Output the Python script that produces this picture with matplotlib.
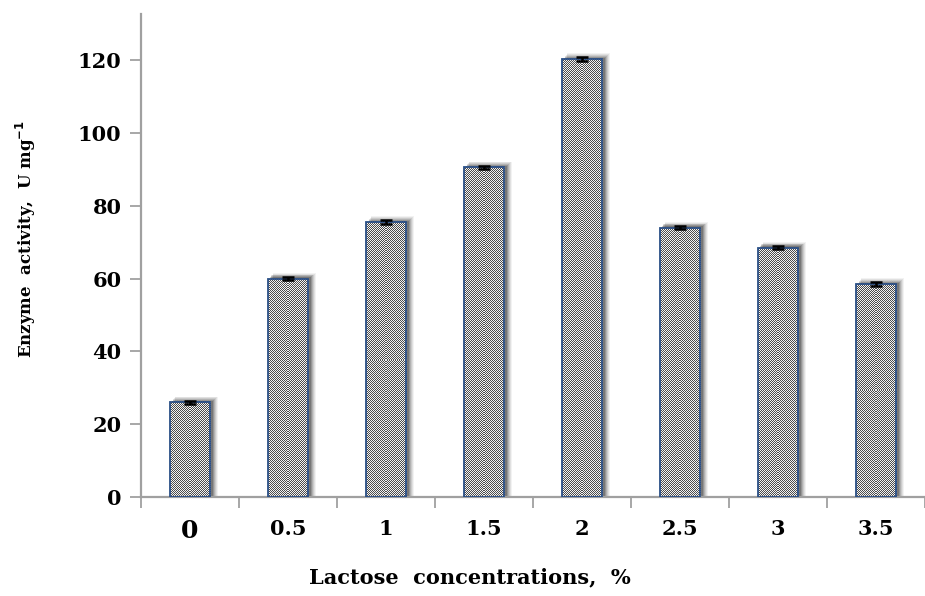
import numpy as np
import matplotlib.pyplot as plt

# Enzyme activity vs lactose concentration
concentrations = ["0", "0.5", "1", "1.5", "2", "2.5", "3", "3.5"]
activity = [26, 60, 75.5, 90.5, 120.2, 74, 68.5, 58.5]
errors = [0.5, 0.5, 0.5, 0.5, 0.6, 0.5, 0.5, 0.5]

plt.rcParams["font.family"] = ["DejaVu Serif"]
plt.rcParams["font.weight"] = "bold"

fig = plt.figure(figsize=(9.25, 5.96), dpi=100)
ax = fig.add_axes([0.1524, 0.166, 0.8476, 0.8104])

x = np.arange(len(concentrations))
w = 0.41
ymax = 132.6

# soft drop shadow behind each bar
for k, a in enumerate([0.05, 0.07, 0.09, 0.12, 0.16, 0.2]):
    off = 0.07 - k * 0.009
    grow = 0.03 - k * 0.005
    ax.bar(x + off, np.array(activity) + 1.6 - k * 0.25, width=w + grow,
           color="black", alpha=a, linewidth=0, zorder=1)

# checkered fill, one image per bar clipped to the bar outline
bars = ax.bar(x, activity, width=w, color="#8a8a8a", linewidth=0, zorder=2)
for b in bars:
    x0, y0 = b.get_x(), b.get_y()
    bw, bh = b.get_width(), b.get_height()
    nx = 42
    ny = int(round(bh / ymax * 483))
    ii, jj = np.indices((ny, nx))
    checker = np.where((ii + jj) % 2 == 0, 0.3, 0.95)
    im = ax.imshow(checker, cmap="gray", vmin=0, vmax=1, interpolation="nearest",
                   extent=(x0, x0 + bw, y0, y0 + bh), aspect="auto", zorder=2.5)
    im.set_clip_path(b)

# outline
ax.bar(x, activity, width=w, facecolor="none", edgecolor="#2a4f86",
       linewidth=1.3, zorder=3)
ax.errorbar(x, activity, yerr=errors, fmt="none", ecolor="black",
            elinewidth=1.8, capsize=4.5, capthick=1.8, zorder=4)

ax.set_xlim(-0.5, -0.5 + 784 / 99)
ax.set_ylim(0, ymax)
ax.set_yticks(np.arange(0, 121, 20))
ax.set_xticks(np.arange(len(concentrations) + 1) - 0.5)
ax.set_xticklabels([])
ax.set_xticks(x, minor=True)
ax.set_xticklabels(concentrations, minor=True)
ax.tick_params(axis="x", which="major", length=8, width=1.3, color="#a0a0a0",
               direction="out")
ax.tick_params(axis="x", which="minor", length=0, pad=16, labelsize=15)
ax.tick_params(axis="y", length=8, width=1.3, color="#a0a0a0", labelsize=15,
               pad=6)
ax.get_xticklabels(minor=True)[0].set_fontsize(18)

for side in ["top", "right"]:
    ax.spines[side].set_visible(False)
for side in ["left", "bottom"]:
    ax.spines[side].set_color("#a0a0a0")
    ax.spines[side].set_linewidth(1.6)

ax.set_ylabel("Enzyme  activity,  U mg$^{\\mathbf{-1}}$", fontsize=12,
              fontweight="bold")
ax.yaxis.set_label_coords(-0.131, 0.535)
ax.set_xlabel("Lactose  concentrations,  %", fontsize=15, fontweight="bold")
ax.xaxis.set_label_coords(0.42, -0.146)

fig.savefig("out.png", dpi=100)
